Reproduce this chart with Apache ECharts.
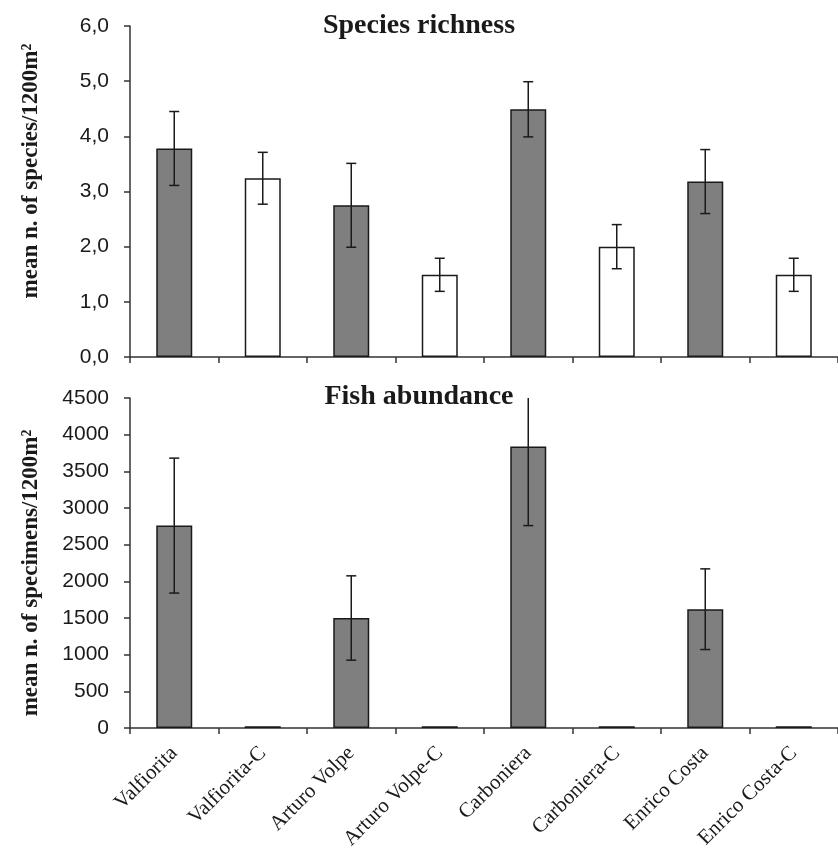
<!DOCTYPE html>
<html>
<head>
<meta charset="utf-8">
<script src="https://cdn.jsdelivr.net/npm/echarts@6/dist/echarts.min.js"></script>
<style>html,body{margin:0;padding:0;background:#fff;}#c{width:838px;height:861px;}</style>
</head>
<body>
<div id="c"></div>
<script>
var categories = ['Valfiorita','Valfiorita-C','Arturo Volpe','Arturo Volpe-C','Carboniera','Carboniera-C','Enrico Costa','Enrico Costa-C'];
var isControl = [false,true,false,true,false,true,false,true];
var richness = [3.78, 3.24, 2.75, 1.49, 4.49, 2.0, 3.18, 1.49];
var richnessErr = [0.67, 0.47, 0.76, 0.30, 0.50, 0.40, 0.58, 0.30];
var abundance = [2760, 25, 1500, 25, 3840, 25, 1620, 25];
var abundanceErr = [920, 0, 575, 0, 1080, 0, 550, 0];
var richnessAxis = {min: 0, max: 6, interval: 1};
var abundanceAxis = {min: 0, max: 4500, interval: 500};

var INK = '#1a1a1a';
var SERIF = 'Liberation Serif';
var SANS = 'Liberation Sans';

function barData(vals) {
  return vals.map(function (v, i) {
    return {value: v, itemStyle: {color: isControl[i] ? '#ffffff' : '#7f7f7f'}};
  });
}
function errData(vals, errs) {
  return vals.map(function (v, i) { return [i, v, errs[i]]; });
}
function errRender(axisMax) {
  return function (params, api) {
    var i = api.value(0), v = api.value(1), e = api.value(2);
    if (!e) return null;
    var hiV = v + e;
    var lo = api.coord([i, v - e]);
    var hi = api.coord([i, Math.min(hiV, axisMax)]);
    var x = lo[0];
    var st = {stroke: INK, lineWidth: 1.5};
    var ch = [
      {type: 'line', shape: {x1: x, y1: lo[1], x2: x, y2: hi[1]}, style: st},
      {type: 'line', shape: {x1: x - 5, y1: lo[1], x2: x + 5, y2: lo[1]}, style: st}
    ];
    if (hiV <= axisMax) ch.push({type: 'line', shape: {x1: x - 5, y1: hi[1], x2: x + 5, y2: hi[1]}, style: st});
    return {type: 'group', children: ch};
  };
}

var axisLine = {show: true, lineStyle: {color: '#333', width: 1.5}};
var axisTick = {show: true, length: 6, interval: 0, lineStyle: {color: '#333', width: 1.5}};

var chart = echarts.init(document.getElementById('c'));
chart.setOption({
  animation: false,
  backgroundColor: '#fff',
  title: [
    {text: 'Species richness', left: 414, top: 7, textAlign: 'center',
     textStyle: {fontFamily: SERIF, fontWeight: 'bold', fontSize: 28, color: INK}},
    {text: 'Fish abundance', left: 414, top: 378, textAlign: 'center',
     textStyle: {fontFamily: SERIF, fontWeight: 'bold', fontSize: 28, color: INK}}
  ],
  graphic: [
    {type: 'text', x: 31, y: 171, rotation: Math.PI / 2,
     style: {text: 'mean n. of species/1200m²', font: 'bold 23px "Liberation Serif"', fill: INK, textAlign: 'center', textVerticalAlign: 'middle'}},
    {type: 'text', x: 31, y: 573, rotation: Math.PI / 2,
     style: {text: 'mean n. of specimens/1200m²', font: 'bold 23px "Liberation Serif"', fill: INK, textAlign: 'center', textVerticalAlign: 'middle'}}
  ],
  grid: [
    {left: 130, top: 26, width: 714, height: 331},
    {left: 130, top: 398, width: 714, height: 330}
  ],
  xAxis: [
    {type: 'category', gridIndex: 0, data: categories, axisLine: axisLine, axisTick: axisTick,
     axisLabel: {show: false}, splitLine: {show: false}},
    {type: 'category', gridIndex: 1, data: categories, axisLine: axisLine, axisTick: axisTick,
     axisLabel: {rotate: 45, interval: 0, margin: 22, fontFamily: SERIF, fontSize: 21, color: INK},
     splitLine: {show: false}}
  ],
  yAxis: [
    {type: 'value', gridIndex: 0, min: richnessAxis.min, max: richnessAxis.max, interval: richnessAxis.interval,
     axisLine: axisLine, axisTick: axisTick, splitLine: {show: false},
     axisLabel: {margin: 21, fontFamily: SANS, fontSize: 21, color: INK,
       formatter: function (v) { return v.toFixed(1).replace('.', ','); }}},
    {type: 'value', gridIndex: 1, min: abundanceAxis.min, max: abundanceAxis.max, interval: abundanceAxis.interval,
     axisLine: axisLine, axisTick: axisTick, splitLine: {show: false},
     axisLabel: {margin: 21, fontFamily: SANS, fontSize: 21, color: INK,
       formatter: function (v) { return String(v); }}}
  ],
  series: [
    {type: 'bar', xAxisIndex: 0, yAxisIndex: 0, barWidth: 36, data: barData(richness),
     itemStyle: {borderColor: INK, borderWidth: 1.5}},
    {type: 'custom', xAxisIndex: 0, yAxisIndex: 0, data: errData(richness, richnessErr),
     encode: {x: 0, y: 1}, renderItem: errRender(richnessAxis.max), z: 5},
    {type: 'bar', xAxisIndex: 1, yAxisIndex: 1, barWidth: 36, data: barData(abundance),
     itemStyle: {borderColor: INK, borderWidth: 1.5}},
    {type: 'custom', xAxisIndex: 1, yAxisIndex: 1, data: errData(abundance, abundanceErr),
     encode: {x: 0, y: 1}, renderItem: errRender(abundanceAxis.max), z: 5}
  ]
});
</script>
</body>
</html>
